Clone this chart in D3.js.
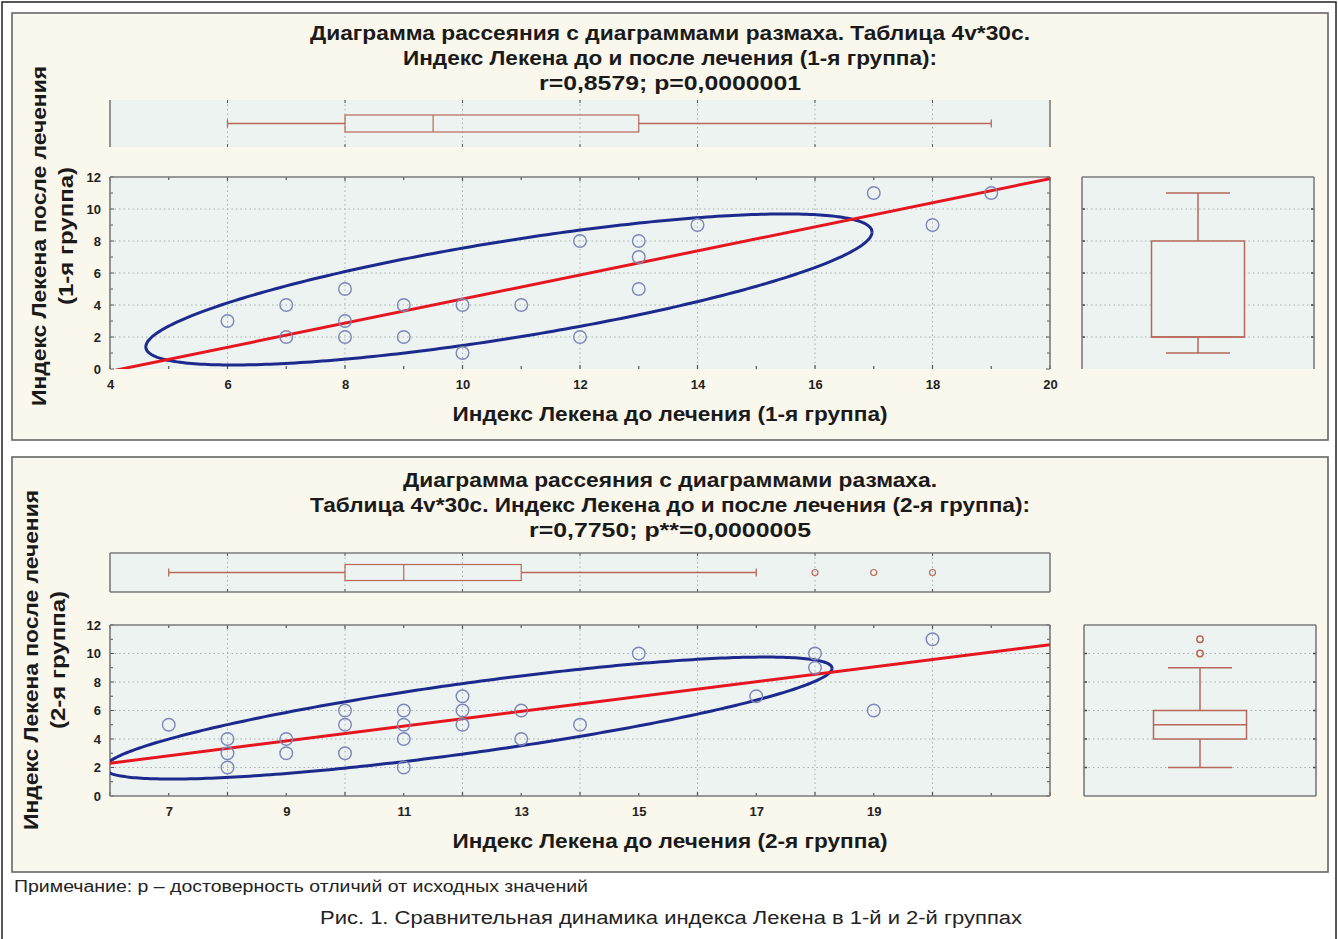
<!DOCTYPE html>
<html>
<head>
<meta charset="utf-8">
<script src="https://cdn.jsdelivr.net/npm/d3@7"></script>
<style>
  body { margin: 0; background: #ffffff; }
  svg text { font-family: "Liberation Sans", Arial, sans-serif; }
  .narrow { font-family: "Liberation Sans Narrow", "Arial Narrow", "Liberation Sans", sans-serif; }
</style>
</head>
<body>
<div id="chart"></div>
<script>
// ---- data ----
// group 1 (before / after treatment)
var g1Before = [6, 7, 7, 8, 8, 8, 9, 9, 10, 10, 11, 12, 12, 13, 13, 13, 14, 17, 18, 19];
var g1After  = [3, 4, 2, 5, 3, 2, 4, 2, 4, 1, 4, 8, 2, 8, 7, 5, 9, 11, 9, 11];
// group 2
var g2Before = [7, 8, 8, 8, 9, 9, 10, 10, 10, 11, 11, 11, 11, 12, 12, 12, 13, 13, 14, 15, 17, 18, 18, 19, 20];
var g2After  = [5, 4, 3, 2, 4, 3, 6, 5, 3, 6, 5, 4, 2, 7, 6, 5, 6, 4, 5, 10, 7, 10, 9, 6, 11];

// regression lines: [intercept, slope]
var g1Fit = [-3.16, 0.753];
var g2Fit = [-0.82, 0.52];
// confidence ellipses: [centerX, centerY, spreadX, spreadY, r]
var g1Ellipse = [10.79, 4.97, 6.18, 4.72, 0.76];
var g2Ellipse = [12.1, 5.47, 6.19, 4.28, 0.816];

// box plots: [min, q1, median, q3, max]
var g1BoxX = [6, 8, 9.5, 13, 19];
var g1BoxY = [1, 2, 2, 8, 11];
var g2BoxX = [7, 10, 11, 13, 17];
var g2BoxY = [2, 4, 5, 6, 9];
var g2OutX = [18, 19, 20];
var g2OutY = [10, 11];

// axes
var g1XDomain = [4, 20];
var g2XDomain = [6, 22];
var yDomain = [0, 12];
var g1XTicks = [4, 6, 8, 10, 12, 14, 16, 18, 20];
var g2XTicks = [7, 9, 11, 13, 15, 17, 19];
var yTicks = [0, 2, 4, 6, 8, 10, 12];

var g1Title = ["Диаграмма рассеяния с диаграммами размаха. Таблица 4v*30с.",
               "Индекс Лекена до и после лечения (1-я группа):",
               "r=0,8579; p=0,0000001"];
var g2Title = ["Диаграмма рассеяния с диаграммами размаха.",
               "Таблица 4v*30с. Индекс Лекена до и после лечения (2-я группа):",
               "r=0,7750; p**=0,0000005"];

var W = 1338, H = 939;
var C = {
  panel: "#faf7ec",
  plot: "#edf3f1",
  frame: "#7a7a7a",
  grid: "#a6b0b0",
  point: "#7d86b8",
  fit: "#e5161f",
  ellipse: "#1c2a8e",
  box: "#b8685a"
};

var svg = d3.select("#chart").append("svg")
  .attr("width", W).attr("height", H);

svg.append("rect")
  .attr("x", 2).attr("y", 2).attr("width", W - 4).attr("height", H + 10)
  .attr("fill", "#fff").attr("stroke", "#222").attr("stroke-width", 1.5);

function frame(g, x0, y0, x1, y1, sides, col) {
  var segs = {
    top: [x0, y0, x1, y0], bottom: [x0, y1, x1, y1],
    left: [x0, y0, x0, y1], right: [x1, y0, x1, y1]
  };
  sides.forEach(function(s) {
    var v = segs[s];
    g.append("line").attr("x1", v[0]).attr("y1", v[1]).attr("x2", v[2]).attr("y2", v[3])
      .attr("stroke", col || C.frame).attr("stroke-width", 1.6);
  });
}

function drawPanel(cfg) {
  var g = svg.append("g");
  // panel background
  g.append("rect")
    .attr("x", 12).attr("y", cfg.top).attr("width", 1316).attr("height", cfg.bottom - cfg.top)
    .attr("fill", C.panel).attr("stroke", "#666").attr("stroke-width", 1.6);

  // titles
  cfg.title.forEach(function(t, i) {
    g.append("text").attr("class", "narrow")
      .attr("x", 670).attr("y", cfg.titleY + i * 25)
      .attr("text-anchor", "middle")
      .attr("font-size", 20).attr("font-weight", "bold").attr("fill", "#1a1a1a")
      .attr("textLength", cfg.titleLen[i]).attr("lengthAdjust", "spacingAndGlyphs")
      .text(t);
  });

  var x = d3.scaleLinear().domain(cfg.xDomain).range([110, 1050]);
  var y = d3.scaleLinear().domain(yDomain).range([cfg.sy1, cfg.sy0]);
  var xMinor = d3.range(Math.ceil(cfg.xDomain[0]), cfg.xDomain[1] + 1);
  var xGrid = xMinor.filter(function(v) { return v % 2 === 0 && v > cfg.xDomain[0] && v < cfg.xDomain[1]; });
  var yMinor = d3.range(0, 13);
  var yGrid = [2, 4, 6, 8, 10];

  // ---- top box plot (before treatment) ----
  var tb = cfg.topBox;
  g.append("rect").attr("x", 110).attr("y", tb.y0).attr("width", 940).attr("height", tb.y1 - tb.y0)
    .attr("fill", C.plot);
  g.selectAll(null).data(xGrid).enter().append("line")
    .attr("x1", x).attr("x2", x).attr("y1", tb.y0).attr("y2", tb.y1)
    .attr("stroke", C.grid).attr("stroke-dasharray", "1.5,3");
  g.selectAll(null).data(xGrid).enter().append("path")
    .attr("d", function(d) { return "M" + x(d) + "," + tb.y0 + "v3M" + x(d) + "," + tb.y1 + "v-3"; })
    .attr("stroke", "#555");
  frame(g, 110, tb.y0, 1050, tb.y1, tb.sides);
  var bx = cfg.boxX, cy = (tb.y0 + tb.y1) / 2, hb = tb.half;
  g.append("path")
    .attr("d", "M" + x(bx[0]) + "," + cy + "H" + x(bx[1]) + "M" + x(bx[3]) + "," + cy + "H" + x(bx[4]) +
      "M" + x(bx[0]) + "," + (cy - 4) + "v8M" + x(bx[4]) + "," + (cy - 4) + "v8")
    .attr("stroke", C.box).attr("stroke-width", 1.3).attr("fill", "none");
  g.append("rect").attr("x", x(bx[1])).attr("y", cy - hb).attr("width", x(bx[3]) - x(bx[1])).attr("height", 2 * hb)
    .attr("fill", "none").attr("stroke", C.box).attr("stroke-width", 1.2);
  g.append("line").attr("x1", x(bx[2])).attr("x2", x(bx[2])).attr("y1", cy - hb).attr("y2", cy + hb)
    .attr("stroke", C.box).attr("stroke-width", 1.2);
  g.selectAll(null).data(cfg.outX).enter().append("circle")
    .attr("cx", x).attr("cy", cy).attr("r", 3)
    .attr("fill", "none").attr("stroke", C.box).attr("stroke-width", 1.2);

  // ---- scatter plot ----
  var clipId = "clip" + cfg.id;
  g.append("clipPath").attr("id", clipId).append("rect")
    .attr("x", 110).attr("y", cfg.sy0).attr("width", 940).attr("height", cfg.sy1 - cfg.sy0);
  g.append("rect").attr("x", 110).attr("y", cfg.sy0).attr("width", 940).attr("height", cfg.sy1 - cfg.sy0)
    .attr("fill", C.plot);
  g.selectAll(null).data(xGrid).enter().append("line")
    .attr("x1", x).attr("x2", x).attr("y1", cfg.sy0).attr("y2", cfg.sy1)
    .attr("stroke", C.grid).attr("stroke-dasharray", "1.5,3");
  g.selectAll(null).data(yGrid).enter().append("line")
    .attr("y1", y).attr("y2", y).attr("x1", 110).attr("x2", 1050)
    .attr("stroke", C.grid).attr("stroke-dasharray", "1.5,3");
  // tick marks on all four edges
  g.selectAll(null).data(xMinor).enter().append("path")
    .attr("d", function(d) {
      var l = d % 2 === 0 ? 4 : 3;
      return "M" + x(d) + "," + cfg.sy0 + "v" + l + "M" + x(d) + "," + cfg.sy1 + "v-" + l;
    })
    .attr("stroke", "#555").attr("stroke-width", 1.2);
  g.selectAll(null).data(yMinor).enter().append("path")
    .attr("d", function(d) {
      var l = d % 2 === 0 ? 4 : 3;
      return "M110," + y(d) + "h" + l + "M1050," + y(d) + "h-" + l;
    })
    .attr("stroke", "#555").attr("stroke-width", 1.2);
  frame(g, 110, cfg.sy0, 1050, cfg.sy1, cfg.scatterSides);

  var plot = g.append("g").attr("clip-path", "url(#" + clipId + ")");
  var e = cfg.ellipse;
  var ts = d3.range(0, 361).map(function(d) { return d * Math.PI / 180; });
  plot.append("path")
    .datum(ts)
    .attr("d", d3.line()
      .x(function(t) { return x(e[0] + e[2] * Math.cos(t)); })
      .y(function(t) { return y(e[1] + e[3] * (e[4] * Math.cos(t) + Math.sqrt(1 - e[4] * e[4]) * Math.sin(t))); }))
    .attr("fill", "none").attr("stroke", C.ellipse).attr("stroke-width", 3);
  var fx = cfg.xDomain;
  plot.append("line")
    .attr("x1", x(fx[0])).attr("y1", y(cfg.fit[0] + cfg.fit[1] * fx[0]))
    .attr("x2", x(fx[1])).attr("y2", y(cfg.fit[0] + cfg.fit[1] * fx[1]))
    .attr("stroke", C.fit).attr("stroke-width", 3);
  g.selectAll(null).data(cfg.px).enter().append("circle")
    .attr("cx", function(d) { return x(d); })
    .attr("cy", function(d, i) { return y(cfg.py[i]); })
    .attr("r", 6.3)
    .attr("fill", "none").attr("stroke", C.point).attr("stroke-width", 1.4);

  // axis labels
  var xAxis = d3.axisBottom(x).tickValues(cfg.xTicks).tickSize(0).tickPadding(0);
  var xg = g.append("g").attr("transform", "translate(0," + (cfg.sy1 + 11) + ")").call(xAxis);
  var yAxis = d3.axisLeft(y).tickValues(yTicks).tickSize(0).tickPadding(0);
  var yg = g.append("g").attr("transform", "translate(101,0)").call(yAxis);
  [xg, yg].forEach(function(a) {
    a.select(".domain").remove();
    a.selectAll("text").attr("font-size", 13).attr("font-weight", "bold").attr("fill", "#222")
      .attr("font-family", "'Liberation Sans', Arial, sans-serif");
  });

  // ---- right box plot (after treatment) ----
  var rx0 = cfg.rbx0, rx1 = cfg.rbx0 + 232;
  var rc = (rx0 + rx1) / 2;
  g.append("rect").attr("x", rx0).attr("y", cfg.sy0).attr("width", 232).attr("height", cfg.sy1 - cfg.sy0)
    .attr("fill", C.plot);
  g.selectAll(null).data(yGrid).enter().append("line")
    .attr("y1", y).attr("y2", y).attr("x1", rx0).attr("x2", rx1)
    .attr("stroke", C.grid).attr("stroke-dasharray", "1.5,3");
  g.selectAll(null).data(yGrid).enter().append("path")
    .attr("d", function(d) { return "M" + rx0 + "," + y(d) + "h3M" + rx1 + "," + y(d) + "h-3"; })
    .attr("stroke", "#444").attr("stroke-width", 1.5);
  frame(g, rx0, cfg.sy0, rx1, cfg.sy1, cfg.rightSides);
  var by = cfg.boxY;
  g.append("rect").attr("x", rc - 46.5).attr("y", y(by[3])).attr("width", 93).attr("height", y(by[1]) - y(by[3]))
    .attr("fill", C.plot).attr("stroke", C.box).attr("stroke-width", 1.5);
  g.append("path")
    .attr("d", "M" + rc + "," + y(by[0]) + "V" + y(by[1]) + "M" + rc + "," + y(by[3]) + "V" + y(by[4]) +
      "M" + (rc - 32) + "," + y(by[0]) + "h64M" + (rc - 32) + "," + y(by[4]) + "h64" +
      "M" + (rc - 46.5) + "," + y(by[2]) + "h93")
    .attr("stroke", C.box).attr("stroke-width", 1.5).attr("fill", "none");
  g.selectAll(null).data(cfg.outY).enter().append("circle")
    .attr("cx", rc).attr("cy", y).attr("r", 3.2)
    .attr("fill", "none").attr("stroke", C.box).attr("stroke-width", 1.5);

  // axis titles
  g.append("text")
    .attr("x", 670).attr("y", cfg.sy1 + 52).attr("text-anchor", "middle")
    .attr("font-size", 20).attr("font-weight", "bold").attr("fill", "#1a1a1a")
    .attr("textLength", 435).attr("lengthAdjust", "spacingAndGlyphs")
    .text(cfg.xTitle);
  cfg.yTitle.forEach(function(t, i) {
    g.append("text")
      .attr("transform", "translate(" + (cfg.yTitleX + i * 27) + "," + cfg.yTitleC + ") rotate(-90)")
      .attr("text-anchor", "middle")
      .attr("font-size", 21).attr("font-weight", "bold").attr("fill", "#1a1a1a")
      .attr("textLength", [340, 138][i]).attr("lengthAdjust", "spacingAndGlyphs")
      .text(t);
  });
}

drawPanel({
  id: 1, top: 13, bottom: 440,
  title: g1Title, titleY: 40, titleLen: [720, 534, 262],
  xDomain: g1XDomain, xTicks: g1XTicks,
  topBox: { y0: 100, y1: 147, half: 8.5, sides: ["left", "right"] },
  sy0: 177, sy1: 369,
  scatterSides: ["top", "left", "right"],
  rbx0: 1082, rightSides: ["left", "right", "top"],
  px: g1Before, py: g1After, fit: g1Fit, ellipse: g1Ellipse,
  boxX: g1BoxX, boxY: g1BoxY, outX: [], outY: [],
  xTitle: "Индекс Лекена до лечения (1-я группа)",
  yTitle: ["Индекс Лекена после лечения", "(1-я группа)"], yTitleX: 46, yTitleC: 236
});

drawPanel({
  id: 2, top: 457, bottom: 872,
  title: g2Title, titleY: 487, titleLen: [534, 720, 282],
  xDomain: g2XDomain, xTicks: g2XTicks,
  topBox: { y0: 553, y1: 592, half: 8, sides: ["left", "right", "top", "bottom"] },
  sy0: 625, sy1: 796,
  scatterSides: ["top", "left", "right", "bottom"],
  rbx0: 1084, rightSides: ["left", "right", "top", "bottom"],
  px: g2Before, py: g2After, fit: g2Fit, ellipse: g2Ellipse,
  boxX: g2BoxX, boxY: g2BoxY, outX: g2OutX, outY: g2OutY,
  xTitle: "Индекс Лекена до лечения (2-я группа)",
  yTitle: ["Индекс Лекена после лечения", "(2-я группа)"], yTitleX: 38, yTitleC: 660
});

// footnotes
svg.append("text").attr("class", "narrow")
  .attr("x", 14).attr("y", 892)
  .attr("font-size", 16).attr("fill", "#222")
  .attr("textLength", 574).attr("lengthAdjust", "spacingAndGlyphs")
  .text("Примечание: p – достоверность отличий от исходных значений");
svg.append("text").attr("class", "narrow")
  .attr("x", 671).attr("y", 924).attr("text-anchor", "middle")
  .attr("font-size", 18).attr("fill", "#222")
  .attr("textLength", 702).attr("lengthAdjust", "spacingAndGlyphs")
  .text("Рис. 1. Сравнительная динамика индекса Лекена в 1-й и 2-й группах");
</script>
</body>
</html>
